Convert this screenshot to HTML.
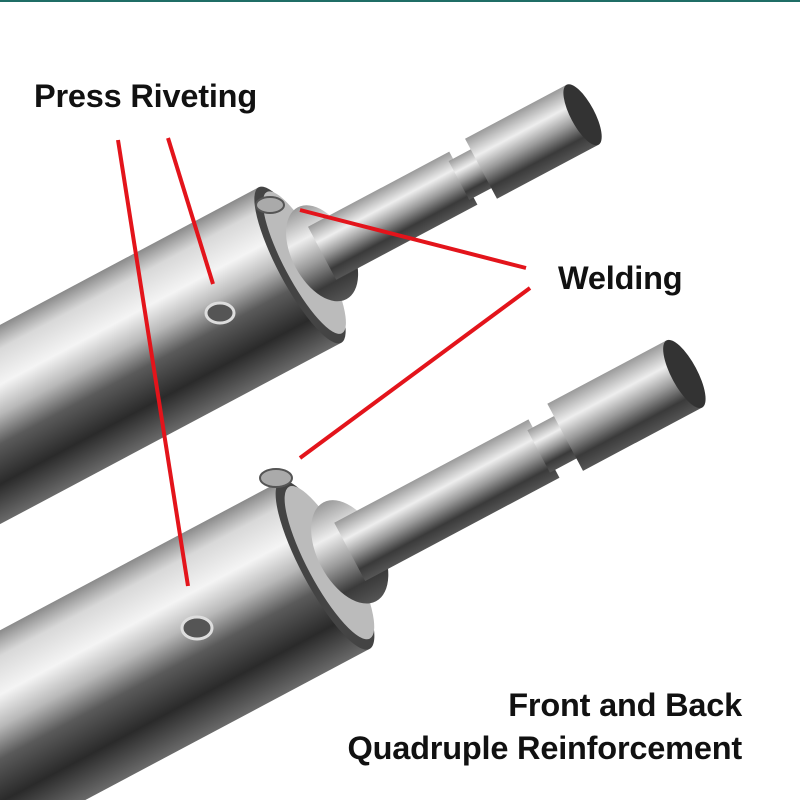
<!DOCTYPE html>
<html><head><meta charset="utf-8"><style>
html,body{margin:0;padding:0;background:#fff;width:800px;height:800px;overflow:hidden;}
body{position:relative;font-family:"Liberation Sans",sans-serif;}
.t{position:absolute;font-weight:bold;color:#111;font-size:32.5px;letter-spacing:-0.2px;white-space:nowrap;line-height:40px;}
</style></head><body>
<svg width="800" height="800" viewBox="0 0 800 800" style="position:absolute;left:0;top:0">
<defs>
<linearGradient id="body" x1="0" y1="0" x2="0" y2="1">
<stop offset="0" stop-color="#8a8a8a"/><stop offset="0.12" stop-color="#d8d8d8"/><stop offset="0.3" stop-color="#f4f4f4"/><stop offset="0.45" stop-color="#b8b8b8"/><stop offset="0.6" stop-color="#5a5a5a"/><stop offset="0.8" stop-color="#2a2a2a"/><stop offset="1" stop-color="#6a6a6a"/>
</linearGradient>
<linearGradient id="shaft" x1="0" y1="0" x2="0" y2="1">
<stop offset="0" stop-color="#9a9a9a"/><stop offset="0.3" stop-color="#eeeeee"/><stop offset="0.55" stop-color="#9a9a9a"/><stop offset="0.8" stop-color="#3a3a3a"/><stop offset="1" stop-color="#555"/>
</linearGradient>
</defs>
<rect x="0" y="0" width="800" height="2" fill="#1f6d66"/>
<g transform="translate(300,265) rotate(-28)">
<rect x="-420" y="-88" width="420" height="176" fill="url(#body)"/>
<ellipse cx="0" cy="0" rx="22" ry="88" fill="#444"/>
<ellipse cx="5" cy="0" rx="20" ry="80" fill="#bbb"/>
<ellipse cx="25" cy="0" rx="30" ry="52" fill="url(#shaft)"/>
<rect x="25" y="-30" width="160" height="60" fill="url(#shaft)"/>
<rect x="180" y="-22" width="30" height="44" fill="url(#shaft)"/>
<rect x="205" y="-34" width="115" height="68" fill="url(#shaft)"/>
<ellipse cx="320" cy="0" rx="12" ry="34" fill="#333"/>
</g>
<g transform="translate(325,565) rotate(-28)">
<rect x="-480" y="-95" width="480" height="190" fill="url(#body)"/>
<ellipse cx="0" cy="0" rx="24" ry="95" fill="#444"/>
<ellipse cx="5" cy="0" rx="22" ry="86" fill="#bbb"/>
<ellipse cx="28" cy="0" rx="32" ry="56" fill="url(#shaft)"/>
<rect x="28" y="-33" width="220" height="66" fill="url(#shaft)"/>
<rect x="242" y="-24" width="34" height="48" fill="url(#shaft)"/>
<rect x="272" y="-38" width="135" height="76" fill="url(#shaft)"/>
<ellipse cx="407" cy="0" rx="13" ry="38" fill="#333"/>
</g>
<ellipse cx="220" cy="313" rx="14" ry="10" fill="#555" stroke="#ddd" stroke-width="3"/>
<ellipse cx="197" cy="628" rx="15" ry="11" fill="#555" stroke="#ddd" stroke-width="3"/>
<ellipse cx="270" cy="205" rx="14" ry="8" fill="#aaa" stroke="#555" stroke-width="2"/>
<ellipse cx="276" cy="478" rx="16" ry="9" fill="#aaa" stroke="#555" stroke-width="2"/>
<g stroke="#e3141b" stroke-width="4" fill="none">
<line x1="118" y1="140" x2="188" y2="586"/>
<line x1="168" y1="138" x2="213" y2="284"/>
<line x1="300" y1="210" x2="526" y2="268"/>
<line x1="300" y1="458" x2="530" y2="288"/>
</g>
</svg>
<div class="t" style="left:34px;top:76px">Press Riveting</div>
<div class="t" style="left:558px;top:258px">Welding</div>
<div class="t" style="right:58px;top:685px">Front and Back</div>
<div class="t" style="right:58px;top:728px">Quadruple Reinforcement</div>
</body></html>
